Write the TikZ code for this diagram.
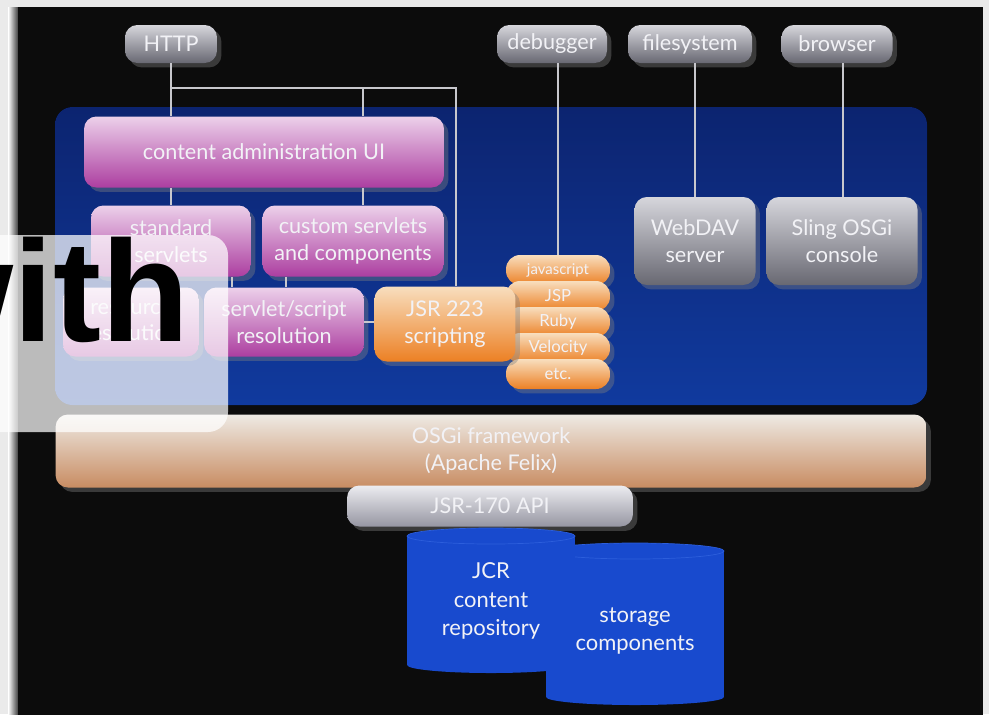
\documentclass[tikz,border=0pt]{standalone}
\usepackage{fontspec}
\setmainfont{Lato}
\newfontfamily\withfont{Liberation Sans}
\usetikzlibrary{shadows}
\usetikzlibrary{calc}

\definecolor{paper}{RGB}{234,234,234}
\definecolor{slidebg}{RGB}{12,12,12}
\definecolor{panelTop}{RGB}{12,36,112}
\definecolor{panelBot}{RGB}{16,58,158}
\definecolor{pinkTop}{RGB}{236,208,234}
\definecolor{pinkBot}{RGB}{172,62,160}
\definecolor{orangeTop}{RGB}{248,222,190}
\definecolor{orangeBot}{RGB}{236,128,36}
\definecolor{greyTop}{RGB}{214,214,220}
\definecolor{greyBot}{RGB}{104,104,114}
\definecolor{felixTop}{RGB}{238,234,228}
\definecolor{felixBot}{RGB}{200,140,98}
\definecolor{apiTop}{RGB}{236,236,240}
\definecolor{apiBot}{RGB}{150,150,162}
\definecolor{cylblue}{RGB}{24,74,206}
\definecolor{cyledge}{RGB}{44,94,220}
\definecolor{wirecol}{RGB}{200,200,205}
\definecolor{labelcol}{RGB}{242,242,246}

\tikzstyle{box}=[rounded corners=7pt, inner sep=0pt, align=center, text=labelcol, font=\fontsize{12.3}{15.3}\selectfont, drop shadow={opacity=0.4}]
\tikzstyle{greybox}=[box, top color=greyTop, bottom color=greyBot]
\tikzstyle{pinkbox}=[box, top color=pinkTop, bottom color=pinkBot]
\tikzstyle{orangebox}=[box, top color=orangeTop, bottom color=orangeBot]
\tikzstyle{langbox}=[orangebox, rounded corners=8pt, minimum width=2.08cm, minimum height=0.6cm, font=\fontsize{9.5}{10}\selectfont]
\tikzstyle{wire}=[draw, line width=0.9pt, wirecol]
\tikzstyle{cyltext}=[align=center, text=labelcol, font=\fontsize{12.5}{16}\selectfont]
\tikzstyle{withtext}=[anchor=base west, inner sep=0pt, font=\withfont\bfseries\fontsize{82}{90}\selectfont]

\begin{document}
\begin{tikzpicture}[x=0.02cm, y=-0.02cm]
    \useasboundingbox (0,0) rectangle (989,714);
    % The slide on its page
    \fill[paper] (0,0) rectangle (989,714);
    \shade[left color=white, right color=black!75] (8,7) rectangle (18,714);
    \fill[slidebg] (18,7) rectangle (983,730);
    \fill[top color=panelTop, bottom color=panelBot, rounded corners=10pt] (55,107) rectangle (927,405);

    % First we draw the boxes
    \foreach \pos/\name/\w/\label in {{(171,44)/http/1.84/HTTP}, {(552,44)/debugger/2.2/debugger}, {(690,44)/filesystem/2.48/filesystem}, {(837,44)/browser/2.22/browser}}
        \node[greybox, minimum width=\w cm, minimum height=0.76cm] (\name) at \pos {\label};

    \foreach \pos/\name/\w/\h/\label in {{(264,152)/admin/7.2/1.42/content administration UI}, {(171,241)/std/3.2/1.42/standard\\servlets}, {(353,241)/custom/3.62/1.42/custom servlets\\and components}, {(131,322)/rresolve/2.72/1.38/resource\\resolution}, {(284,322)/sresolve/3.2/1.38/{servlet/script\\resolution}}}
        \node[pinkbox, minimum width=\w cm, minimum height=\h cm] (\name) at \pos {\label};

    \foreach \y/\name/\label in {270/js/{\fontsize{8.5}{9}\selectfont javascript}, 296/jsp/JSP, 322/ruby/Ruby, 348/velocity/Velocity, 374/etc/etc.}
        \node[langbox] (\name) at (558,\y) {\label};
    \node[orangebox, minimum width=2.82cm, minimum height=1.5cm] (jsr) at (445,324) {JSR 223\\scripting};

    \foreach \pos/\name/\w/\label in {{(695,241)/webdav/2.42/WebDAV\\server}, {(842,241)/sling/3.02/Sling OSGi\\console}}
        \node[greybox, minimum width=\w cm, minimum height=1.76cm] (\name) at \pos {\label};

    \node[box, top color=felixTop, bottom color=felixBot, minimum width=17.42cm, minimum height=1.46cm] (osgi) at (491,451) {OSGi framework\\(Apache Felix)};
    \node[box, top color=apiTop, bottom color=apiBot, minimum width=5.72cm, minimum height=0.82cm] (jcrapi) at (490,506) {JSR-170 API};

    % Repositories
    \fill[cylblue] (546,551) rectangle (724,697);
    \fill[cylblue] (635,697) ellipse [x radius=89, y radius=8];
    \filldraw[fill=cylblue, draw=cyledge] (635,551) ellipse [x radius=89, y radius=8];
    \node[cyltext] (storage) at (635,631) {storage\\components};
    \fill[cylblue] (407,536) rectangle (575,665);
    \fill[cylblue] (491,665) ellipse [x radius=84, y radius=8];
    \filldraw[fill=cylblue, draw=cyledge] (491,536) ellipse [x radius=84, y radius=8];
    \node[cyltext] (jcr) at (491,601) {JCR\\content\\repository};

    % Connect the boxes
    \coordinate (tap) at (363,88);
    \coordinate (busend) at (456,88);
    \path[wire] (http.south) -- (http.south |- admin.north);
    \path[wire] (http.south |- busend) -- (busend) -- (busend |- jsr.north);
    \path[wire] (tap) -- (tap |- admin.north);
    \foreach \x/\source/\dest in {171/admin/std, 363/admin/custom, 232/std/sresolve, 286/custom/sresolve, 558/debugger/js, 695/filesystem/webdav, 843/browser/sling}
        \path[wire] (\x,0 |- \source.south) -- (\x,0 |- \dest.north);
    \path[wire] (sresolve.east) -- (sresolve.east -| jsr.west);

    % The caption laid over the slide
    \fill[white, opacity=0.72, rounded corners=0.4cm] (-40,235) rectangle (228,432);
    \node[withtext] (with) at (-99,341) {with};
\end{tikzpicture}
\end{document}
